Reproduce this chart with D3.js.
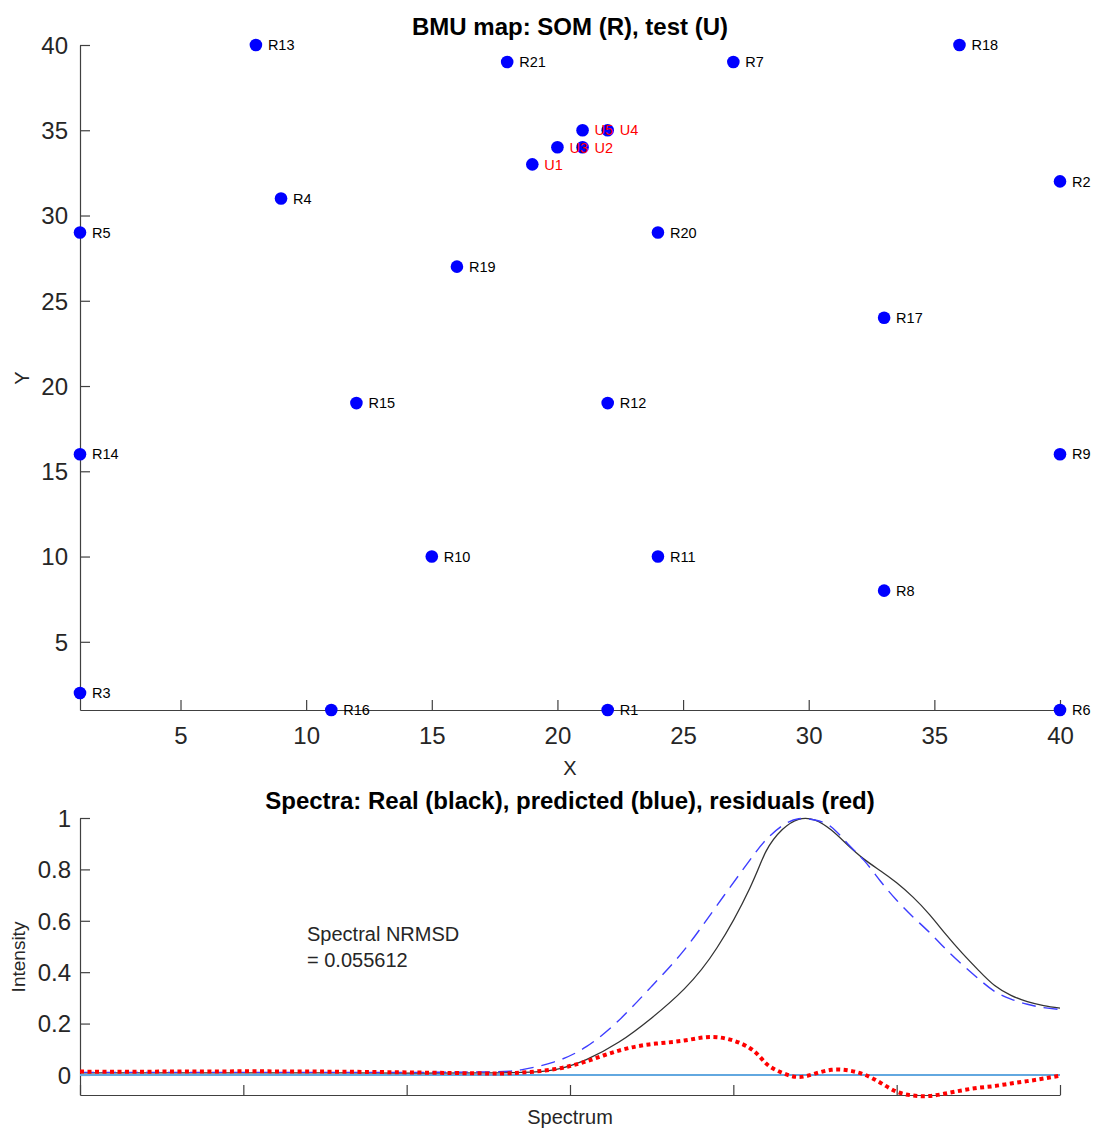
<!DOCTYPE html>
<html>
<head>
<meta charset="utf-8">
<script src="https://cdn.jsdelivr.net/npm/d3@7"></script>
<style>
  html, body { margin: 0; padding: 0; background: #fff; }
  svg { display: block; font-family: "Liberation Sans", Arial, Helvetica, sans-serif; }
</style>
</head>
<body>
<svg id="chart" width="1094" height="1129"></svg>
<script>
// SOM reference nodes (R) and their grid positions
const refNames = ["R1","R2","R3","R4","R5","R6","R7","R8","R9","R10","R11",
                  "R12","R13","R14","R15","R16","R17","R18","R19","R20","R21"];
const refX = [22, 40, 1, 9, 1, 40, 27, 33, 40, 15, 24, 22, 8, 1, 12, 11, 33, 36, 16, 24, 18];
const refY = [1, 32, 2, 31, 29, 1, 39, 8, 16, 10, 10, 19, 40, 16, 19, 1, 24, 40, 27, 29, 39];

// Test samples (U) mapped to their best matching units
const testNames = ["U1","U2","U3","U4","U5"];
const testX = [19, 21, 20, 22, 21];
const testY = [33, 34, 34, 35, 35];

const mapTicks = [5, 10, 15, 20, 25, 30, 35, 40];

// Spectra: channel index, measured, predicted and residual intensities
const channels = [0, 50, 100, 150, 200, 250, 270, 290, 310, 330, 350, 370, 390, 410,
                  420, 430, 440, 450, 460, 470, 480, 490, 500, 510, 520, 530, 540,
                  550, 560, 570, 580, 590, 600];
const realSpectrum = [0.008, 0.008, 0.008, 0.008, 0.007, 0.008, 0.010, 0.020, 0.060, 0.128,
                      0.222, 0.335, 0.495, 0.726, 0.870, 0.955, 0.995, 0.992, 0.953, 0.895,
                      0.840, 0.795, 0.748, 0.692, 0.625, 0.548, 0.475, 0.408, 0.348, 0.310,
                      0.285, 0.270, 0.260];
const predictedSpectrum = [0.010, 0.010, 0.010, 0.010, 0.010, 0.012, 0.020, 0.050, 0.110, 0.213,
                           0.345, 0.487, 0.660, 0.835, 0.915, 0.970, 0.997, 0.992, 0.965, 0.900,
                           0.835, 0.755, 0.680, 0.615, 0.555, 0.490, 0.430, 0.375, 0.325, 0.295,
                           0.275, 0.262, 0.255];
const residuals = [0.013, 0.013, 0.014, 0.013, 0.010, 0.006, 0.009, 0.022, 0.053, 0.095,
                   0.120, 0.134, 0.147, 0.105, 0.045, 0.008, -0.008, 0.005, 0.020, 0.018,
                   0.002, -0.030, -0.065, -0.080, -0.082, -0.072, -0.060, -0.050, -0.043,
                   -0.033, -0.024, -0.014, -0.003];
const spectrumTicks = [0, 100, 200, 300, 400, 500, 600];
const intensityTicks = [0, 0.2, 0.4, 0.6, 0.8, 1];
const nrmsdText = ["Spectral NRMSD", "= 0.055612"];

const svg = d3.select("#chart");
const axisColor = "#404040";
const textColor = "#262626";
const tickFont = "24px";

// ---------- BMU map ----------
const mapX = d3.scaleLinear().domain([1, 40]).range([80, 1060]);
const mapY = d3.scaleLinear().domain([1, 40]).range([710, 45]);

const mapAxisX = svg.append("g")
  .attr("transform", `translate(0,${mapY(1)})`)
  .call(d3.axisBottom(mapX).tickValues(mapTicks).tickSizeInner(-10).tickSizeOuter(0).tickPadding(17));
const mapAxisY = svg.append("g")
  .attr("transform", `translate(${mapX(1)},0)`)
  .call(d3.axisLeft(mapY).tickValues(mapTicks).tickSizeInner(-10).tickSizeOuter(0).tickPadding(12));

[mapAxisX, mapAxisY].forEach(g => {
  g.select(".domain").attr("stroke", axisColor).attr("stroke-width", 1.2);
  g.selectAll(".tick line").attr("stroke", axisColor).attr("stroke-width", 1.2);
  g.selectAll(".tick text").attr("fill", textColor).style("font-size", tickFont)
    .style("font-family", "'Liberation Sans', Arial, sans-serif");
});
mapAxisX.selectAll(".tick text").attr("dy", "0.71em");
mapAxisY.selectAll(".tick text").attr("dy", "0.35em");

svg.append("text").attr("x", 570).attr("y", 35).attr("text-anchor", "middle")
  .style("font-size", "24px").style("font-weight", "bold").attr("fill", "#000")
  .text("BMU map: SOM (R), test (U)");
svg.append("text").attr("x", 570).attr("y", 775).attr("text-anchor", "middle")
  .style("font-size", "20px").attr("fill", textColor).text("X");
svg.append("text").attr("transform", "translate(29,378) rotate(-90)").attr("text-anchor", "middle")
  .style("font-size", "20px").attr("fill", textColor).text("Y");

const refPts = refNames.map((n, i) => ({ name: n, x: refX[i], y: refY[i] }));
const testPts = testNames.map((n, i) => ({ name: n, x: testX[i], y: testY[i] }));

svg.append("g").selectAll("circle").data(refPts.concat(testPts)).join("circle")
  .attr("cx", d => mapX(d.x)).attr("cy", d => mapY(d.y)).attr("r", 6.3)
  .attr("fill", "#0000ff");

svg.append("g").selectAll("text").data(refPts).join("text")
  .attr("x", d => mapX(d.x) + 12).attr("y", d => mapY(d.y)).attr("dy", "0.36em")
  .style("font-size", "14.5px").attr("fill", "#000").text(d => d.name);
svg.append("g").selectAll("text").data(testPts).join("text")
  .attr("x", d => mapX(d.x) + 12).attr("y", d => mapY(d.y)).attr("dy", "0.36em")
  .style("font-size", "14.5px").attr("fill", "#ff0000").text(d => d.name);

// ---------- Spectra ----------
const specX = d3.scaleLinear().domain([0, 600]).range([80, 1060]);
const specY = d3.scaleLinear().domain([-0.078, 1]).range([1095, 818]);

const specAxisX = svg.append("g")
  .attr("transform", `translate(0,${specY(-0.078)})`)
  .call(d3.axisBottom(specX).tickValues(spectrumTicks).tickFormat("").tickSizeInner(-10).tickSizeOuter(0));
const specAxisY = svg.append("g")
  .attr("transform", `translate(${specX(0)},0)`)
  .call(d3.axisLeft(specY).tickValues(intensityTicks).tickFormat(d3.format("~g"))
        .tickSizeInner(-10).tickSizeOuter(0).tickPadding(9));

[specAxisX, specAxisY].forEach(g => {
  g.select(".domain").attr("stroke", axisColor).attr("stroke-width", 1.2);
  g.selectAll(".tick line").attr("stroke", axisColor).attr("stroke-width", 1.2);
  g.selectAll(".tick text").attr("fill", textColor).style("font-size", tickFont)
    .style("font-family", "'Liberation Sans', Arial, sans-serif");
});
specAxisY.selectAll(".tick text").attr("dy", "0.35em");

svg.append("text").attr("x", 570).attr("y", 809).attr("text-anchor", "middle")
  .style("font-size", "24px").style("font-weight", "bold").attr("fill", "#000")
  .text("Spectra: Real (black), predicted (blue), residuals (red)");
svg.append("text").attr("x", 570).attr("y", 1124).attr("text-anchor", "middle")
  .style("font-size", "20px").attr("fill", textColor).text("Spectrum");
svg.append("text").attr("transform", "translate(25,957) rotate(-90)").attr("text-anchor", "middle")
  .style("font-size", "19px").attr("fill", textColor).text("Intensity");

svg.append("g").selectAll("text").data(nrmsdText).join("text")
  .attr("x", 307).attr("y", (d, i) => 941 + i * 26)
  .style("font-size", "20px").attr("fill", textColor).text(d => d);

// zero reference line
svg.append("line")
  .attr("x1", specX(0)).attr("x2", specX(600))
  .attr("y1", specY(0)).attr("y2", specY(0))
  .attr("stroke", "#62a8e0").attr("stroke-width", 2);

const lineFor = values => d3.line()
  .x((d, i) => specX(channels[i]))
  .y(d => specY(d))
  .curve(d3.curveNatural)(values);

svg.append("path").attr("d", lineFor(realSpectrum))
  .attr("fill", "none").attr("stroke", "#333").attr("stroke-width", 1.3);
svg.append("path").attr("d", lineFor(predictedSpectrum))
  .attr("fill", "none").attr("stroke", "#3d3dff").attr("stroke-width", 1.4)
  .attr("stroke-dasharray", "14,8");
svg.append("path").attr("d", lineFor(residuals))
  .attr("fill", "none").attr("stroke", "#ff0000").attr("stroke-width", 4)
  .attr("stroke-dasharray", "4,3.5");
</script>
</body>
</html>
